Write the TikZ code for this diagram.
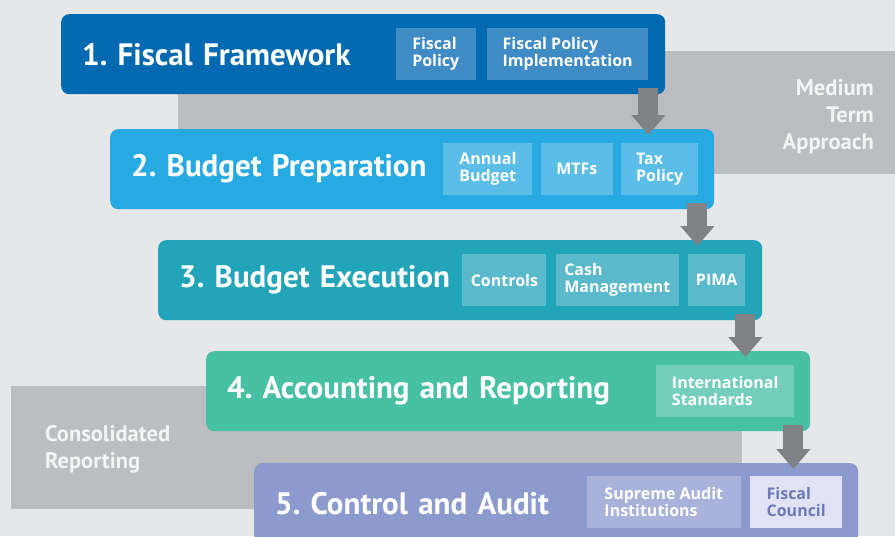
\documentclass[tikz,border=0pt]{standalone}
\usepackage{fontspec}
\setmainfont{PT Sans}
\newfontfamily\widefont{Open Sans}
\usetikzlibrary{arrows.meta,positioning}

\definecolor{bgcol}{RGB}{230,231,232}
\definecolor{bandcol}{RGB}{188,189,192}
\definecolor{bandtxt}{RGB}{243,244,244}
\definecolor{arrowcol}{RGB}{128,130,133}
\definecolor{cA}{RGB}{3,106,177}
\definecolor{sA}{RGB}{62,139,198}
\definecolor{cB}{RGB}{39,170,225}
\definecolor{sB}{RGB}{91,190,232}
\definecolor{cC}{RGB}{34,165,184}
\definecolor{sC}{RGB}{90,185,202}
\definecolor{cD}{RGB}{72,192,164}
\definecolor{sD}{RGB}{116,207,186}
\definecolor{cE}{RGB}{140,154,205}
\definecolor{sE}{RGB}{168,178,219}
\definecolor{pale}{RGB}{224,227,243}
\definecolor{paletxt}{RGB}{110,122,182}

\tikzset{
  stage/.style={rounded corners=8pt, anchor=north west, minimum height=80pt,
    text width=562pt, inner xsep=21pt, align=left, text=white,
    font=\frenchspacing\bfseries\fontsize{31}{36}\selectfont},
  item/.style={minimum height=52pt, inner sep=0pt, align=left, text=white,
    font=\widefont\bfseries\fontsize{16}{17}\selectfont},
  flow/.style={draw=arrowcol, line width=20pt, -{Triangle[width=33pt,length=20pt]}},
  bandtext/.style={text=bandtxt, inner sep=0pt, font=\bfseries\fontsize{22.5}{27}\selectfont}
}

\begin{document}
\begin{tikzpicture}[x=1pt, y=-1pt, node distance=8pt]
	\clip (0,0) rectangle (895,536);
	\fill[bgcol] (0,0) rectangle (895,536);
	
	%grey bands behind the stages
	\fill[bandcol] (178,51) rectangle (895,174);
	\fill[bandcol] (11,386) rectangle (742,509);
	\node[bandtext, align=right, anchor=east] (mta) at (874,117) {Medium\\Term\\Approach};
	\node[bandtext, align=left, anchor=west] (cons) at (45,449) {Consolidated\\Reporting};
	
	%stages
	\node[stage, fill=cA] (b1) at (61,14) {1. Fiscal Framework};
	\node[stage, fill=cB] (b2) at (110,129) {2. Budget Preparation};
	\node[stage, fill=cC] (b3) at (158,240) {3. Budget Execution};
	\node[stage, fill=cD] (b4) at (206,351) {4. Accounting and Reporting};
	\node[stage, fill=cE] (b5) at (254,463) {5. Control and Audit};
	
	%items inside the stages
	\node[item, fill=sA, minimum width=161pt, anchor=north east] (fpi) at ([xshift=-17pt, yshift=-14pt]b1.north east) {Fiscal Policy\\Implementation};
	\node[item, fill=sA, minimum width=80pt, left=11pt of fpi] (fp) {Fiscal\\Policy};
	
	\node[item, fill=sB, minimum width=77pt, anchor=north east] (tax) at ([xshift=-16pt, yshift=-14pt]b2.north east) {Tax\\Policy};
	\node[item, fill=sB, minimum width=72pt, left=of tax] (mtf) {MTFs};
	\node[item, fill=sB, minimum width=89pt, left=of mtf] (ab) {Annual\\Budget};
	
	\node[item, fill=sC, minimum width=57pt, anchor=north east] (pima) at ([xshift=-17pt, yshift=-14pt]b3.north east) {PIMA};
	\node[item, fill=sC, minimum width=123pt, left=9pt of pima] (cash) {Cash\\Management};
	\node[item, fill=sC, minimum width=84pt, left=9pt of cash] (ctrl) {Controls};
	
	\node[item, fill=sD, minimum width=138pt, anchor=north east] (intl) at ([xshift=-16pt, yshift=-14pt]b4.north east) {International\\Standards};
	
	\node[item, fill=pale, text=paletxt, minimum width=92pt, anchor=north east] (fc) at ([xshift=-16pt, yshift=-13pt]b5.north east) {Fiscal\\Council};
	\node[item, fill=sE, minimum width=154pt, left=9pt of fc] (sai) {Supreme Audit\\Institutions};
	
	%arrows between the stages
	\foreach \i/\j in {1/2, 2/3, 3/4, 4/5}{
		\coordinate (a\i) at ([xshift=-17pt]b\i.south east);
		\path (a\i |- b\j.north) coordinate (e\i);
		\draw[flow] ([yshift=6pt]a\i) -- ([yshift=-6pt]e\i);
	}
\end{tikzpicture}
\end{document}
